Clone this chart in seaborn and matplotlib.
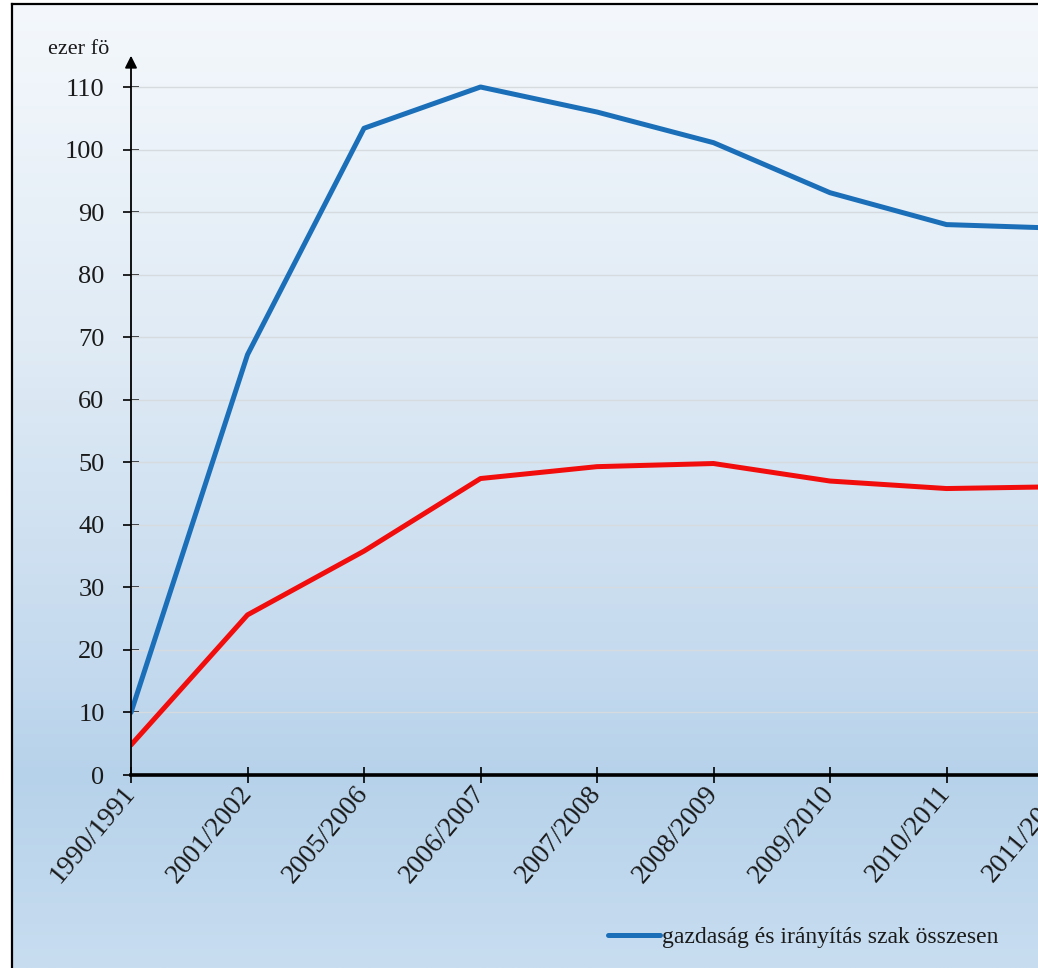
import numpy as np
import pandas as pd
import matplotlib
matplotlib.use("Agg")
import matplotlib.pyplot as plt
import seaborn as sns
from matplotlib.lines import Line2D

# ---- data ----
years = ["1990/1991", "2001/2002", "2005/2006", "2006/2007", "2007/2008",
         "2008/2009", "2009/2010", "2010/2011", "2011/2012"]
total = [10.0, 67.2, 103.4, 110.0, 106.0, 101.1, 93.1, 88.0, 87.4]
subset = [4.8, 25.6, 35.8, 47.4, 49.3, 49.8, 47.0, 45.8, 46.1]
yticks = [0, 10, 20, 30, 40, 50, 60, 70, 80, 90, 100, 110]
legend_label = "gazdaság és irányítás szak összesen"
unit_label = "ezer fö"

sns.set_theme(style="white")
plt.rcParams["font.family"] = ["Liberation Serif", "DejaVu Serif"]

W, H = 1038, 968
fig = plt.figure(figsize=(W / 100, H / 100), dpi=100)
fig.patch.set_facecolor("white")

# background panel with gradient and frame
bg = fig.add_axes([12 / W, 0, 1 - 12 / W, (H - 4) / H])
stops_y = [0.0, 0.35, 0.7, 0.8, 1.0]
stops_c = [np.array(matplotlib.colors.to_rgb(c)) for c in
           ["#f4f8fc", "#e0ebf5", "#c3d9ee", "#b6d2ea", "#c8ddf0"]]
n = 400
t = np.linspace(0, 1, n)
grad = np.zeros((n, 2, 3))
for i, tv in enumerate(t):
    for k in range(len(stops_y) - 1):
        if stops_y[k] <= tv <= stops_y[k + 1]:
            f = (tv - stops_y[k]) / (stops_y[k + 1] - stops_y[k])
            grad[i, :, :] = stops_c[k] * (1 - f) + stops_c[k + 1] * f
            break
bg.imshow(grad, aspect="auto", extent=[0, 1, 0, 1], origin="upper")
bg.set_xlim(0, 1)
bg.set_ylim(0, 1)
bg.set_xticks([])
bg.set_yticks([])
for s in ["right", "bottom"]:
    bg.spines[s].set_visible(False)
for s in ["left", "top"]:
    bg.spines[s].set_visible(True)
    bg.spines[s].set_color("black")
    bg.spines[s].set_linewidth(1.6)

# main axes
x0 = 131
dx = 116.5
y0 = 775
py = (775 - 87) / 110.0
ymax = 115
xmax = 8.5
ax = fig.add_axes([x0 / W, (H - y0) / H, xmax * dx / W, ymax * py / H])
ax.patch.set_alpha(0)

df = pd.DataFrame({"year": years, "idx": range(len(years)),
                   "total": total, "subset": subset})
sns.lineplot(data=df, x="idx", y="total", ax=ax, color="#1b6fb9",
             linewidth=3.6, legend=False, zorder=4)
sns.lineplot(data=df, x="idx", y="subset", ax=ax, color="#f20d0d",
             linewidth=3.6, legend=False, zorder=5)

ax.set_xlim(0, xmax)
ax.set_ylim(0, ymax)
ax.set_xticks(range(len(years)))
ax.set_xticklabels(years, rotation=50, ha="right", va="center",
                   rotation_mode="anchor", fontsize=20)
ax.set_yticks(yticks)
ax.set_yticklabels([str(v) for v in yticks], fontsize=19)
ax.set_xlabel("")
ax.set_ylabel("")
for v in yticks[1:]:
    ax.axhline(v, color="#d6dbe0", lw=1.0, zorder=1)

ax.spines["top"].set_visible(False)
ax.spines["right"].set_visible(False)
ax.spines["left"].set_visible(False)
ax.spines["bottom"].set_color("black")
ax.spines["bottom"].set_linewidth(2.6)
ax.spines["bottom"].set_zorder(6)
ax.tick_params(axis="y", direction="inout", length=12, width=1.2,
               color="black", pad=13, left=True, labelcolor="#1a1a1a")
ax.tick_params(axis="x", direction="inout", length=12, width=1.2,
               color="black", pad=4, bottom=True, labelcolor="#1a1a1a")

# y axis with arrow
ax.annotate("", xy=(0, 1), xycoords="axes fraction", xytext=(0, 0),
            textcoords="axes fraction",
            arrowprops=dict(arrowstyle="-|>", color="black", lw=1.3,
                            mutation_scale=18, shrinkA=0, shrinkB=0),
            annotation_clip=False, zorder=7)

fig.text(48 / W, (H - 50) / H, unit_label, fontsize=16, va="center",
         ha="left", color="#1a1a1a")

handle = Line2D([], [], color="#1b6fb9", lw=3.6)
leg = fig.legend([handle], [legend_label], loc="center left",
                 bbox_to_anchor=(608 / W, (H - 937) / H), frameon=False,
                 fontsize=17, handlelength=2.2, handletextpad=0.1,
                 borderpad=0, borderaxespad=0)
for txt in leg.get_texts():
    txt.set_color("#1a1a1a")

fig.savefig("out.png", dpi=100)
